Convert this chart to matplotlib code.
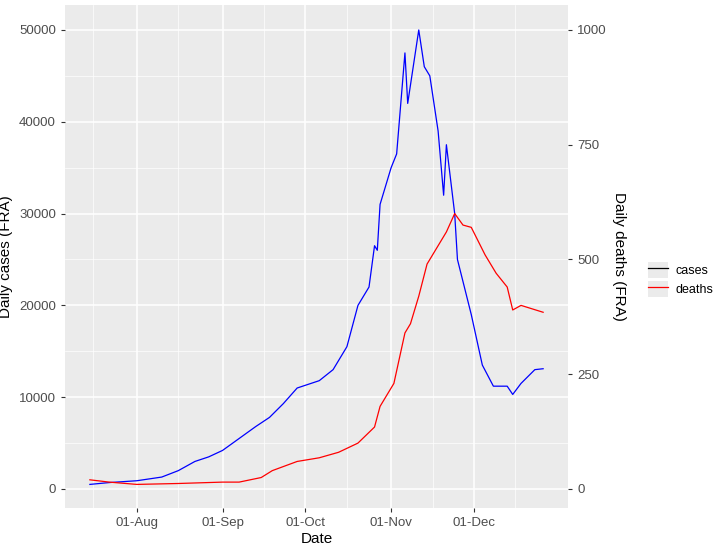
import matplotlib
matplotlib.use("Agg")
import matplotlib.pyplot as plt
import matplotlib.dates as mdates
import pandas as pd
from matplotlib.lines import Line2D
from matplotlib.patches import Rectangle
from matplotlib.legend_handler import HandlerTuple

plt.rcParams['font.family'] = ['Liberation Sans', 'DejaVu Sans']

case_dates = ["2020-07-15","2020-07-22","2020-08-01","2020-08-10","2020-08-16","2020-08-22","2020-08-27",
 "2020-09-01","2020-09-07","2020-09-13","2020-09-18","2020-09-23","2020-09-28","2020-10-06","2020-10-11",
 "2020-10-16","2020-10-20","2020-10-24","2020-10-26","2020-10-27","2020-10-28","2020-11-01","2020-11-03",
 "2020-11-06","2020-11-07","2020-11-08","2020-11-11","2020-11-13","2020-11-15","2020-11-18","2020-11-20",
 "2020-11-21","2020-11-24","2020-11-25","2020-11-30","2020-12-04","2020-12-08","2020-12-13","2020-12-15",
 "2020-12-18","2020-12-23","2020-12-26"]
cases = [500,700,900,1300,2000,3000,3500,4200,5500,6800,7800,9300,11000,11800,13000,15500,20000,22000,
 26500,26000,31000,35000,36500,47500,42000,44000,50000,46000,45000,39000,32000,37500,30000,25000,19000,
 13500,11200,11200,10300,11500,13000,13100]
death_dates = ["2020-07-15","2020-07-22","2020-08-01","2020-08-16","2020-09-01","2020-09-07","2020-09-15",
 "2020-09-19","2020-09-28","2020-10-06","2020-10-13","2020-10-20","2020-10-26","2020-10-28","2020-11-02",
 "2020-11-06","2020-11-08","2020-11-11","2020-11-14","2020-11-18","2020-11-21","2020-11-24","2020-11-27",
 "2020-11-30","2020-12-05","2020-12-09","2020-12-13","2020-12-15","2020-12-18","2020-12-26"]
deaths = [20,15,10,12,15,15,25,40,60,68,80,100,135,180,230,340,360,420,490,530,560,600,575,570,510,470,
 440,390,400,385]

cd = pd.to_datetime(case_dates); dd = pd.to_datetime(death_dates)
fig = plt.figure(figsize=(7.28,5.53), dpi=100)
ax = fig.add_axes([65/728, 45/553, 503/728, 503/553])
ax.set_facecolor("#EBEBEB")
ax.plot(cd, cases, color="blue", lw=0.9)
ax.plot(dd, [d*50 for d in deaths], color="red", lw=0.9)
ax.set_xlim(pd.Timestamp("2020-07-06"), pd.Timestamp("2021-01-04"))
ax.set_ylim(-2070, 52720)
ax.set_yticks([0,10000,20000,30000,40000,50000])
ax.xaxis.set_major_locator(mdates.MonthLocator(bymonth=[8,9,10,11,12]))
ax.xaxis.set_major_formatter(mdates.DateFormatter("%d-%b"))
ax.xaxis.set_minor_locator(mdates.DayLocator(bymonthday=16))
ax.set_yticks([5000,15000,25000,35000,45000], minor=True)
ax.grid(which="major", color="white", lw=1.1)
ax.grid(which="minor", color="white", lw=0.5)
ax.set_axisbelow(True)
for s in ax.spines.values(): s.set_visible(False)
ax.tick_params(which="both", length=3, color="#333333", labelcolor="#4D4D4D", labelsize=9.5)
ax.tick_params(which="minor", length=0)
ax.set_xlabel("Date", fontsize=11, labelpad=2)
ax.set_ylabel("Daily cases (FRA)", fontsize=11, labelpad=4)
ax2 = ax.twinx()
ax2.set_ylim(-2070/50, 52720/50)
ax2.set_yticks([0,250,500,750,1000])
for s in ax2.spines.values(): s.set_visible(False)
ax2.tick_params(length=3, color="#333333", labelcolor="#4D4D4D", labelsize=9.5)
ax2.set_ylabel("Daily deaths (FRA)", fontsize=11, rotation=270, labelpad=14)
bg = lambda: Rectangle((0,0),1,1, facecolor="#EBEBEB", edgecolor="none")
handles = [(bg(), Line2D([], [], color="black", lw=0.9)), (bg(), Line2D([], [], color="red", lw=0.9))]
leg = fig.legend(handles, ["cases","deaths"], loc="center left", bbox_to_anchor=(637/728, 0.495),
                 frameon=False, fontsize=9, handlelength=1.6, handleheight=1.6, labelspacing=0.2,
                 handletextpad=0.6, handler_map={tuple: HandlerTuple(ndivide=1)})
fig.savefig("out.png", dpi=100)
